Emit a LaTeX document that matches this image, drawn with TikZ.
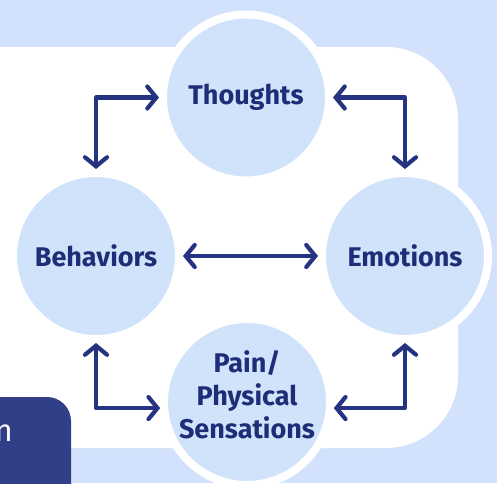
\documentclass[tikz,border=0pt]{standalone}
\usepackage{fontspec}
\setmainfont{Fira Sans}
\usetikzlibrary{arrows.meta}

\definecolor{skyback}{RGB}{211,226,252}
\definecolor{bubble}{RGB}{208,227,250}
\definecolor{navy}{RGB}{31,44,120}
\definecolor{linknavy}{RGB}{36,52,130}
\definecolor{tabnavy}{RGB}{49,62,136}

\begin{document}
\begin{tikzpicture}[x=1pt, y=-1pt,
	feeling/.style={circle, fill=bubble, draw=white, line width=8pt, minimum size=166pt, inner sep=0pt, align=center, text=navy, font=\bfseries\fontsize{27}{33}\selectfont},
	wording/.style={align=center, text=navy, inner sep=0pt, font=\bfseries\fontsize{27}{33}\selectfont},
	link/.style={linknavy, line width=4.2pt, line join=round, {Straight Barb[length=9pt,width=22pt,line cap=round]}-{Straight Barb[length=9pt,width=22pt,line cap=round]}}]
	\useasboundingbox (0,0) rectangle (497,483);
	\fill [skyback] (0,0) rectangle (497,483);
	\fill [white, rounded corners=72pt] (-80,47) rectangle (458,448);
	
	\node [feeling] (thoughts) at (246,97.5) {Thoughts};
	\node [feeling] (behaviors) at (96,256) {Behaviors};
	\node [feeling] (emotions) at (405,256) {Emotions};
	\node [feeling] (pain) at (247,402) {};
	\node [wording] (painlabel) at (247,395) {Pain/\\Physical\\Sensations};
	
	\draw [link] (thoughts.west) -| (behaviors.north);
	\draw [link] (thoughts.east) -| (emotions.north);
	\draw [link] (behaviors.east) -- (emotions.west);
	\draw [link] (pain.184) -| (behaviors.south);
	\draw [link] (pain.356) -| (emotions.south);
	
	\fill [tabnavy, rounded corners=24pt] (-60,397) rectangle (71,540);
	\node [anchor=base east, text=white, inner sep=0pt, font=\fontsize{31}{36}\selectfont] (tabword) at (13,441) {n};
\end{tikzpicture}
\end{document}
